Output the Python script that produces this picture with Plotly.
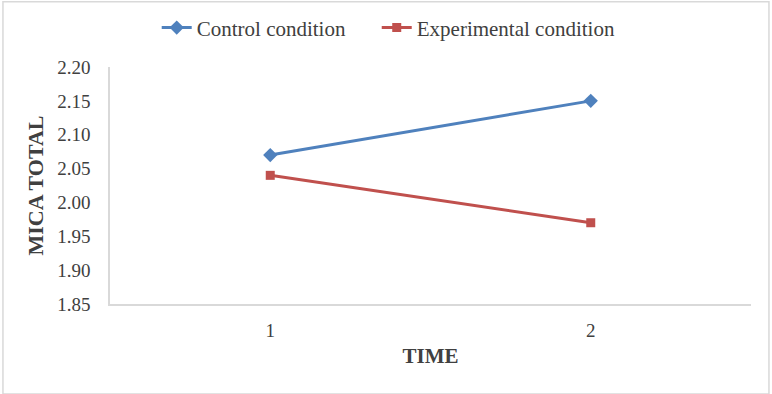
import plotly.graph_objects as go

time_labels = ["1", "2"]
control = [2.07, 2.15]
experimental = [2.04, 1.97]
y_ticks = [1.85, 1.90, 1.95, 2.00, 2.05, 2.10, 2.15, 2.20]

FONT = "Liberation Serif, Times New Roman, DejaVu Serif, serif"

fig = go.Figure()
fig.add_trace(go.Scatter(
    x=time_labels, y=control, name="Control condition", mode="lines+markers",
    line=dict(color="#4F81BD", width=3), legend="legend",
    marker=dict(symbol="diamond", size=11, color="#4F81BD")))
fig.add_trace(go.Scatter(
    x=time_labels, y=experimental, name="Experimental condition", mode="lines+markers",
    line=dict(color="#C0504D", width=3), legend="legend2",
    marker=dict(symbol="square", size=9, color="#C0504D")))

legend_style = dict(orientation="h", xref="container", yref="container",
                    xanchor="left", y=0.929, yanchor="middle",
                    font=dict(family=FONT, size=21, color="#404040"),
                    itemwidth=30, bgcolor="rgba(0,0,0,0)")

fig.update_layout(
    width=772, height=394,
    margin=dict(l=110, r=21, t=67, b=90),
    paper_bgcolor="white", plot_bgcolor="white",
    font=dict(family=FONT, size=19, color="#404040"),
    showlegend=True,
    legend=dict(x=0.203, **legend_style),
    legend2=dict(x=0.488, **legend_style),
    xaxis=dict(type="category", range=[-0.5, 1.5], showgrid=False, automargin=False,
               showline=True, linecolor="#D9D9D9", linewidth=1.5,
               ticks="", tickfont=dict(family=FONT, size=19), ticklabelstandoff=8,
               title=dict(text="<b>TIME</b>", font=dict(family=FONT, size=21), standoff=9)),
    yaxis=dict(range=[1.85, 2.20], tickvals=y_ticks, automargin=False,
               ticktext=[f"{v:.2f}" for v in y_ticks],
               showgrid=False, zeroline=False,
               showline=True, linecolor="#D9D9D9", linewidth=1.5,
               ticks="", tickfont=dict(family=FONT, size=19), ticklabelstandoff=14,
               title=dict(text="<b>MICA TOTAL</b>", font=dict(family=FONT, size=22), standoff=8)),
)

fig.add_shape(type="rect", xref="paper", yref="paper",
              x0=-0.167, x1=1.028, y0=-0.38, y1=1.275,
              line=dict(color="#D9D9D9", width=1.5), fillcolor="rgba(0,0,0,0)")

fig.write_html("out.html", config={"displayModeBar": False},
               post_script="document.body.style.margin='0';")
